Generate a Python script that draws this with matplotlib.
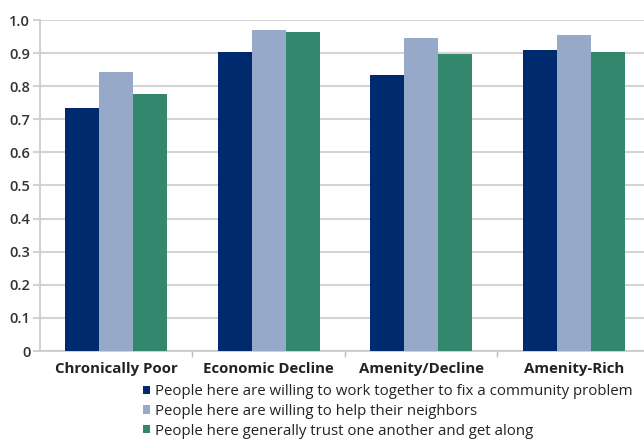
import matplotlib
matplotlib.use("Agg")
import matplotlib.pyplot as plt
import numpy as np
from matplotlib.patches import Patch

categories = ["Chronically Poor", "Economic Decline", "Amenity/Decline", "Amenity-Rich"]
series_names = [
    "People here are willing to work together to fix a community problem",
    "People here are willing to help their neighbors",
    "People here generally trust one another and get along",
]
work_together = [0.733, 0.902, 0.835, 0.908]
help_neighbors = [0.844, 0.969, 0.947, 0.954]
trust_one_another = [0.777, 0.965, 0.898, 0.903]
yticks = [0, 0.1, 0.2, 0.3, 0.4, 0.5, 0.6, 0.7, 0.8, 0.9, 1.0]
ytick_labels = ["0", "0.1", "0.2", "0.3", "0.4", "0.5", "0.6", "0.7", "0.8", "0.9", "1.0"]

colors = ["#002a6e", "#97a9c8", "#33876d"]

plt.rcParams['font.family'] = ['Open Sans', 'DejaVu Sans']

fig = plt.figure(figsize=(6.44, 4.44), dpi=100)
ax = fig.add_axes([40/644, 93/444, 610/644, 331/444])

x = np.arange(len(categories))
w = 0.223
for i, (vals, c) in enumerate(zip([work_together, help_neighbors, trust_one_another], colors)):
    ax.bar(x + (i - 1) * w, vals, width=w, color=c, zorder=3, label=series_names[i])

ax.set_ylim(0, 1.0)
ax.set_xlim(-0.5, 3.5)
ax.set_yticks(yticks)
ax.set_yticklabels(ytick_labels, fontsize=10.5, color="#333333", fontweight="semibold")
ax.yaxis.grid(True, color="#d4d4d4", linewidth=1.5, zorder=0)
ax.tick_params(axis="y", length=5, color="#d4d4d4", width=1.5, pad=2)

ax.set_xticks([0.5, 1.5, 2.5])
ax.set_xticklabels([])
ax.set_xticks(x, minor=True)
ax.set_xticklabels(categories, minor=True, fontsize=10.8, fontweight="bold", color="#222222")
ax.tick_params(axis="x", which="minor", length=0, pad=8)
ax.tick_params(axis="x", which="major", length=4, color="#bbbbbb", width=1)

for s in ["top", "right"]:
    ax.spines[s].set_visible(False)
ax.spines["left"].set_color("#c8c8c8")
ax.spines["left"].set_linewidth(1.2)
ax.spines["bottom"].set_color("#c8c8c8")
ax.spines["bottom"].set_linewidth(1.2)

handles = [Patch(facecolor=c, edgecolor="none") for c in colors]
fig.legend(handles, series_names, loc="upper left", bbox_to_anchor=(143/644, 1 - 384/444),
           frameon=False, fontsize=10.85, handlelength=0.45, handleheight=0.45,
           handletextpad=0.35, labelspacing=0.32, borderaxespad=0, borderpad=0,
           labelcolor="#222222")

fig.savefig("out.png", dpi=100)
